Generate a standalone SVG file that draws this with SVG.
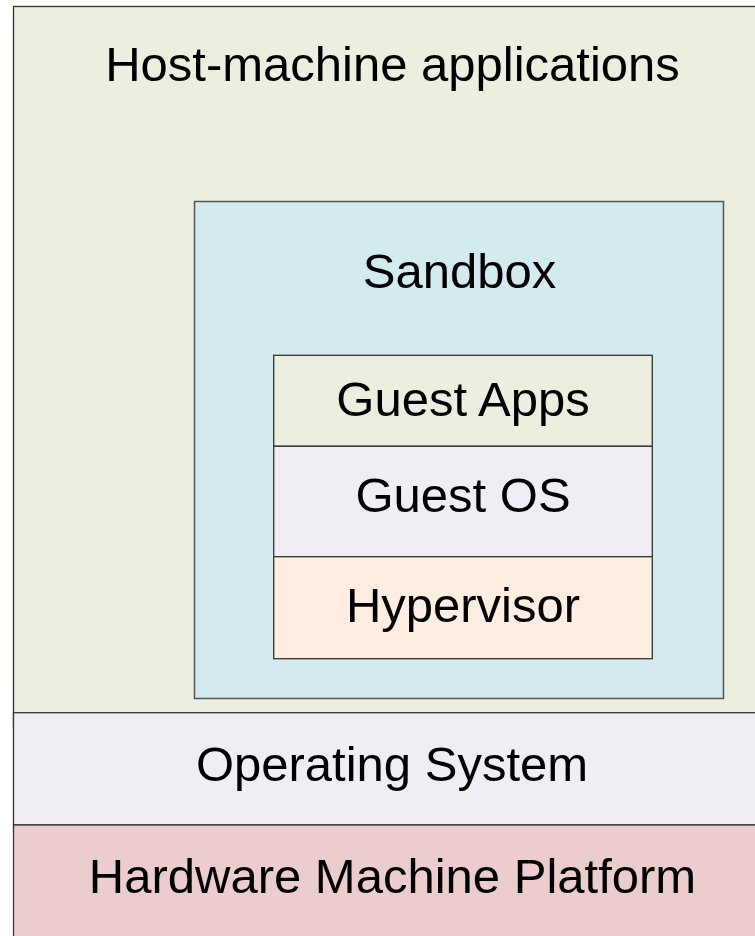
<svg xmlns="http://www.w3.org/2000/svg" width="755" height="936" viewBox="0 0 755 936">
<style>
  text { font-family: "Liberation Sans", Arial, sans-serif; font-size: 49px; fill: #000; text-anchor: middle; }
  .box { stroke: #333; stroke-width: 1.3; }
</style>
<rect width="755" height="936" fill="#fff"/>
<g id="host">
  <rect class="box" x="13.5" y="6.5" width="760" height="720" fill="#ECEFDF"/>
  <text x="392.5" y="80.5">Host-machine applications</text>
</g>
<g id="sandbox">
  <rect x="194.5" y="201.5" width="529" height="497" fill="#D3EAEF" stroke="#555" stroke-width="1.5"/>
  <text x="459.5" y="288">Sandbox</text>
</g>
<g id="guest-apps">
  <rect class="box" x="273.7" y="355.3" width="378.6" height="91" fill="#ECEFDF"/>
  <text x="463" y="415.7">Guest Apps</text>
</g>
<g id="guest-os">
  <rect class="box" x="273.7" y="446.3" width="378.6" height="110.4" fill="#F0EEF4"/>
  <text x="463" y="512">Guest OS</text>
</g>
<g id="hypervisor">
  <rect class="box" x="273.7" y="556.7" width="378.6" height="102" fill="#FDEEE1"/>
  <text x="463" y="622">Hypervisor</text>
</g>
<g id="os">
  <rect class="box" x="13.5" y="712.7" width="760" height="112.3" fill="#F0EEF4"/>
  <text x="392" y="781">Operating System</text>
</g>
<g id="hardware">
  <rect class="box" x="13.5" y="825" width="760" height="130" fill="#ECCDCD"/>
  <text x="392.5" y="893">Hardware Machine Platform</text>
</g>
<g id="connectors"></g>
</svg>
